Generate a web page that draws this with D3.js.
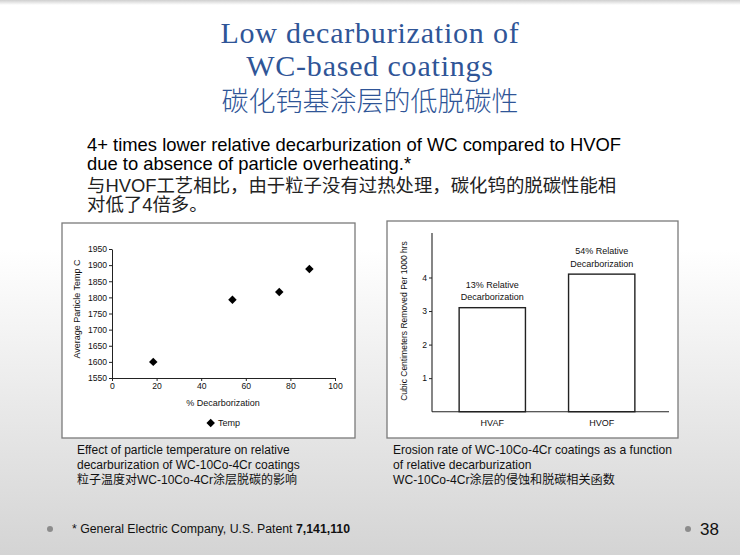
<!DOCTYPE html>
<html><head><meta charset="utf-8">
<script src="https://cdn.jsdelivr.net/npm/d3@7"></script>
<style>
html,body{margin:0;padding:0;background:#fff;}
svg{display:block;}
</style></head>
<body>
<script>
// ---- data ----
const titleLines = ["Low decarburization of", "WC-based coatings", "碳化钨基涂层的低脱碳性"];
const bodyLines = ["4+ times lower relative decarburization of WC compared to HVOF",
  "due to absence of particle overheating.*"];
const bodyZh = ["与HVOF工艺相比，由于粒子没有过热处理，碳化钨的脱碳性能相", "对低了4倍多。"];

const decarb = [18.5, 54, 75, 88.5];          // % Decarborization
const temps = [1600, 1793, 1817, 1888];       // Average Particle Temp C
const tempTicks = [1550,1600,1650,1700,1750,1800,1850,1900,1950];
const decarbTicks = [0,20,40,60,80,100];

const processes = ["HVAF", "HVOF"];
const erosion = [3.1, 4.1];                  // cc removed per 1000 hrs
const erosionNotes = [["13% Relative","Decarborization"],["54% Relative","Decarborization"]];
const erosionTicks = [1,2,3,4];

const capLeft = ["Effect of particle temperature on relative","decarburization of WC-10Co-4Cr coatings","粒子温度对WC-10Co-4Cr涂层脱碳的影响"];
const capRight = ["Erosion rate of WC-10Co-4Cr coatings as a function","of relative decarburization","WC-10Co-4Cr涂层的侵蚀和脱碳相关函数"];

const W = 740, H = 555;
const sans = "'Liberation Sans', Arial, sans-serif";
const cjk = "'Liberation Sans', 'Noto Sans CJK SC', sans-serif";
const serif = "'Liberation Serif', 'DejaVu Serif', serif";

const svg = d3.select("body").append("svg").attr("width", W).attr("height", H);
const defs = svg.append("defs");
const g = defs.append("linearGradient").attr("id","bg").attr("x1",0).attr("y1",0).attr("x2",0).attr("y2",1);
g.append("stop").attr("offset","0%").attr("stop-color","#ffffff");
g.append("stop").attr("offset","45%").attr("stop-color","#ffffff");
g.append("stop").attr("offset","100%").attr("stop-color","#d4d4d4");
svg.append("rect").attr("width",W).attr("height",H).attr("fill","url(#bg)");
const tb = defs.append("linearGradient").attr("id","tb").attr("x1",0).attr("y1",0).attr("x2",0).attr("y2",1);
tb.append("stop").attr("offset","0%").attr("stop-color","#cfcfcf");
tb.append("stop").attr("offset","100%").attr("stop-color","#ffffff");
svg.append("rect").attr("width",W).attr("height",5).attr("fill","url(#tb)");

// ---- title ----
const titleColor = "#2f5597";
svg.append("text").attr("x",370).attr("y",43).attr("text-anchor","middle").attr("letter-spacing",0.8)
  .attr("font-family",serif).attr("font-size",30).attr("fill",titleColor).text(titleLines[0]);
svg.append("text").attr("x",370).attr("y",76).attr("text-anchor","middle").attr("letter-spacing",0.8)
  .attr("font-family",serif).attr("font-size",30).attr("fill",titleColor).text(titleLines[1]);
svg.append("text").attr("x",370).attr("y",111).attr("text-anchor","middle")
  .attr("font-family","'Noto Sans CJK SC', sans-serif").attr("font-weight",300).attr("font-size",27).attr("fill",titleColor).text(titleLines[2]);

// ---- body ----
[151,170].forEach((y,i)=>svg.append("text").attr("x",87).attr("y",y).attr("font-family",sans).attr("font-size",18.4).attr("fill","#000").text(bodyLines[i]));
[192,211].forEach((y,i)=>svg.append("text").attr("x",87).attr("y",y).attr("font-family",cjk).attr("font-size",18.4).attr("fill","#222").text(bodyZh[i]));

// ---- boxes ----
svg.append("rect").attr("x",62).attr("y",223).attr("width",293).attr("height",215).attr("fill","#fff").attr("stroke","#7a7a7a").attr("stroke-width",1.3);
svg.append("rect").attr("x",387).attr("y",221).attr("width",291).attr("height",217).attr("fill","#fff").attr("stroke","#7a7a7a").attr("stroke-width",1.3);

// ---- left scatter ----
const x1 = d3.scaleLinear().domain([0,100]).range([112,335]);
const y1 = d3.scaleLinear().domain([1550,1950]).range([378,249]);
const axStyle = sel => { sel.selectAll("path,line").attr("stroke","#222").attr("stroke-width",1);
  sel.selectAll("text").attr("font-family",sans).attr("font-size",8.6).attr("fill","#111"); };
svg.append("g").attr("transform","translate(0,378)")
  .call(d3.axisBottom(x1).tickValues(decarbTicks).tickFormat(d3.format("d")).tickSize(3).tickSizeOuter(0).tickPadding(2))
  .call(axStyle);
svg.append("g").attr("transform","translate(112,0)")
  .call(d3.axisLeft(y1).tickValues(tempTicks).tickFormat(d3.format("d")).tickSize(3).tickSizeOuter(0).tickPadding(2))
  .call(axStyle);
const diamond = d3.symbol().type(d3.symbolDiamond2 || d3.symbolDiamond).size(46);
svg.append("g").selectAll("path").data(decarb).join("path")
  .attr("transform",(d,i)=>`translate(${x1(d)},${y1(temps[i])})`)
  .attr("d",diamond).attr("fill","#000");
svg.append("text").attr("transform","translate(80,309) rotate(-90)").attr("text-anchor","middle")
  .attr("font-family",sans).attr("font-size",9).attr("fill","#111").text("Average Particle Temp C");
svg.append("text").attr("x",223).attr("y",406).attr("text-anchor","middle")
  .attr("font-family",sans).attr("font-size",9).attr("fill","#111").text("% Decarborization");
svg.append("path").attr("transform","translate(210.7,423)").attr("d",diamond).attr("fill","#000");
svg.append("text").attr("x",218).attr("y",426).attr("font-family",sans).attr("font-size",9).attr("fill","#111").text("Temp");

// ---- right bar chart ----
const x2 = d3.scaleBand().domain(processes).range([432,662]).paddingInner(0.394).paddingOuter(0.248);
const y2 = d3.scaleLinear().domain([0,4.7]).range([411.7,254]);
svg.append("g").selectAll("rect").data(processes).join("rect")
  .attr("x",d=>x2(d)).attr("width",x2.bandwidth())
  .attr("y",(d,i)=>y2(erosion[i])).attr("height",(d,i)=>y2(0)-y2(erosion[i]))
  .attr("fill","#fff").attr("stroke","#222").attr("stroke-width",1.4);
const yAx2 = svg.append("g").attr("transform","translate(432,0)")
  .call(d3.axisLeft(y2).tickValues(erosionTicks).tickFormat(d3.format("d")).tickSize(3).tickSizeOuter(0).tickPadding(2));
yAx2.select(".domain").remove();
yAx2.call(axStyle);
svg.append("line").attr("x1",432).attr("x2",432).attr("y1",233).attr("y2",411.7).attr("stroke","#222").attr("stroke-width",1.1);
const xAx2 = svg.append("g").attr("transform","translate(0,411.7)")
  .call(d3.axisBottom(x2).tickSize(0).tickPadding(8));
xAx2.select(".domain").remove();
xAx2.call(axStyle);
xAx2.selectAll("text").attr("font-size",9);
svg.append("line").attr("x1",432).attr("x2",669).attr("y1",411.7).attr("y2",411.7).attr("stroke","#222").attr("stroke-width",1.1);
svg.append("g").selectAll("g").data(processes).join("g").each(function(d,i){
  const cx = x2(d) + x2.bandwidth()/2;
  const top = y2(erosion[i]);
  erosionNotes[i].forEach((t,j)=>d3.select(this).append("text").attr("x",cx).attr("y",top-20+j*12.5)
    .attr("text-anchor","middle").attr("font-family",sans).attr("font-size",9).attr("fill","#111").text(t));
});
svg.append("text").attr("transform","translate(407,321) rotate(-90)").attr("text-anchor","middle")
  .attr("font-family",sans).attr("font-size",8.5).attr("fill","#111").text("Cubic Centimeters Removed Per 1000 hrs");

// ---- captions ----
[454,469,484].forEach((y,i)=>svg.append("text").attr("x",77).attr("y",y).attr("font-family",cjk).attr("font-size",12).attr("fill","#111").text(capLeft[i]));
[454,469,484].forEach((y,i)=>svg.append("text").attr("x",393).attr("y",y).attr("font-family",cjk).attr("font-size",12.1).attr("fill","#111").text(capRight[i]));

// ---- footer ----
svg.append("circle").attr("cx",50).attr("cy",529).attr("r",3).attr("fill","#8c8c8c");
const ft = svg.append("text").attr("x",72).attr("y",533).attr("font-family",sans).attr("font-size",12.3).attr("fill","#111");
ft.append("tspan").text("* General Electric Company, U.S. Patent ");
ft.append("tspan").attr("font-weight","bold").text("7,141,110");
svg.append("circle").attr("cx",688).attr("cy",529).attr("r",3).attr("fill","#8c8c8c");
svg.append("text").attr("x",700).attr("y",535).attr("font-family",sans).attr("font-size",17).attr("fill","#111").text("38");
</script>
</body></html>
